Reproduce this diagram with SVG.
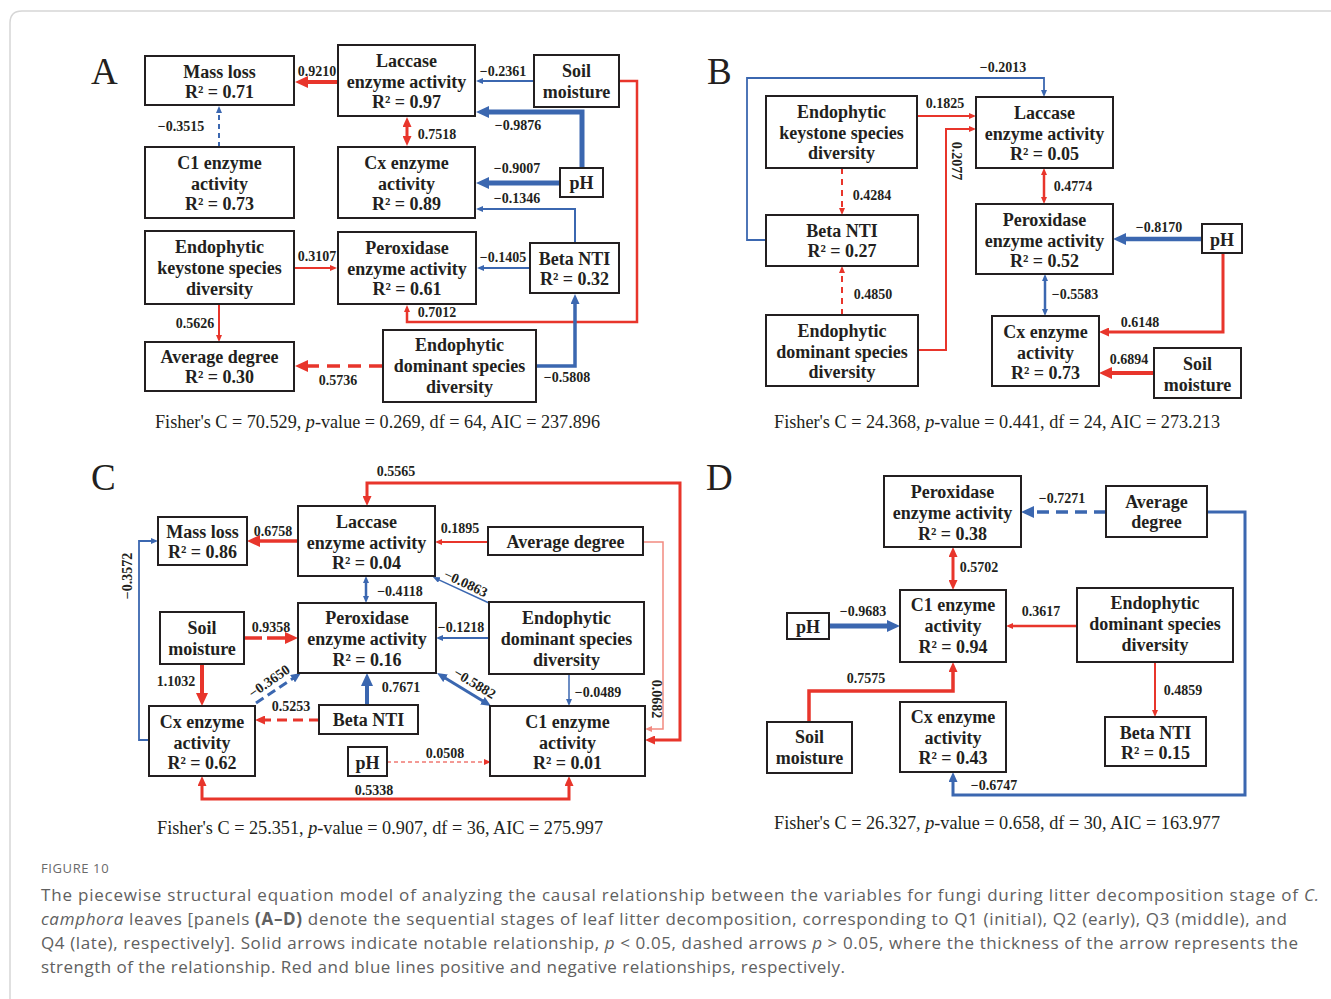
<svg xmlns="http://www.w3.org/2000/svg" width="1331" height="999" viewBox="0 0 1331 999">
<style>
.bx{fill:#fff;stroke:#231f20;stroke-width:2}
.nt{font-family:"Liberation Serif","Times New Roman",serif;font-weight:bold;font-size:18px;text-anchor:middle;fill:#231f20}
.lb{font-family:"Liberation Serif","Times New Roman",serif;font-weight:bold;font-size:14px;text-anchor:middle;fill:#231f20}
.fi{font-family:"Liberation Serif","Times New Roman",serif;font-size:18px;fill:#231f20}
.pl{font-family:"Liberation Serif","Times New Roman",serif;font-size:37px;fill:#231f20}
.r{fill:none;stroke:#e8352b}
.b{fill:none;stroke:#3b67b0}
.p{fill:none;stroke:#f28a80}
.cap{font-family:"Open Sans","Noto Sans","Liberation Sans",sans-serif;font-size:17px;fill:#606060}
.fig{font-family:"Open Sans","Noto Sans","Liberation Sans",sans-serif;font-size:13px;fill:#6a6a6a;letter-spacing:0.6px}
</style>
<defs>
<marker id="rs" viewBox="0 0 7 6" refX="1" refY="3" markerWidth="7" markerHeight="6" markerUnits="userSpaceOnUse" orient="auto-start-reverse"><path d="M0,0 L7,3 L0,6 z" fill="#e8352b"/></marker>
<marker id="bs" viewBox="0 0 7 6" refX="1" refY="3" markerWidth="7" markerHeight="6" markerUnits="userSpaceOnUse" orient="auto-start-reverse"><path d="M0,0 L7,3 L0,6 z" fill="#3b67b0"/></marker>
<marker id="ps" viewBox="0 0 7 6" refX="1" refY="3" markerWidth="7" markerHeight="6" markerUnits="userSpaceOnUse" orient="auto-start-reverse"><path d="M0,0 L7,3 L0,6 z" fill="#f28a80"/></marker>
<marker id="rm" viewBox="0 0 10 9" refX="1" refY="4.5" markerWidth="10" markerHeight="9" markerUnits="userSpaceOnUse" orient="auto-start-reverse"><path d="M0,0 L10,4.5 L0,9 z" fill="#e8352b"/></marker>
<marker id="bm" viewBox="0 0 10 9" refX="1" refY="4.5" markerWidth="10" markerHeight="9" markerUnits="userSpaceOnUse" orient="auto-start-reverse"><path d="M0,0 L10,4.5 L0,9 z" fill="#3b67b0"/></marker>
<marker id="rl" viewBox="0 0 13 12" refX="1" refY="6" markerWidth="13" markerHeight="12" markerUnits="userSpaceOnUse" orient="auto-start-reverse"><path d="M0,0 L13,6 L0,12 z" fill="#e8352b"/></marker>
<marker id="bl" viewBox="0 0 13 12" refX="1" refY="6" markerWidth="13" markerHeight="12" markerUnits="userSpaceOnUse" orient="auto-start-reverse"><path d="M0,0 L13,6 L0,12 z" fill="#3b67b0"/></marker>
</defs>
<rect width="1331" height="999" fill="#fff"/>
<path d="M10,999 V23 Q10,11 22,11 H1331" fill="none" stroke="#d6d6d6" stroke-width="1.5"/>

<!-- Panel letters -->
<text class="pl" x="91" y="84">A</text>
<text class="pl" x="707" y="84">B</text>
<text class="pl" x="91" y="490">C</text>
<text class="pl" x="706" y="490">D</text>

<!-- ===== Connectors ===== -->
<g id="connectors">
<!-- Panel A -->
<path class="r" stroke-width="4" d="M337,82 H307" marker-end="url(#rl)"/>
<path class="b" stroke-width="2" stroke-dasharray="5 4" d="M219,147 V112" marker-end="url(#bs)"/>
<path class="b" stroke-width="2" d="M534,81 H482" marker-end="url(#bs)"/>
<path class="b" stroke-width="5" d="M582,168 V112 H488" marker-end="url(#bl)"/>
<path class="b" stroke-width="5" d="M560,183 H488" marker-end="url(#bl)"/>
<path class="b" stroke-width="2" d="M575,243 V209 H482" marker-end="url(#bs)"/>
<path class="r" stroke-width="3" d="M407,126 V137" marker-start="url(#rm)" marker-end="url(#rm)"/>
<path class="r" stroke-width="2.5" d="M619,81 H637 V322 H407 V311" marker-end="url(#rs)"/>
<path class="b" stroke-width="2" d="M530,268 H483" marker-end="url(#bs)"/>
<path class="b" stroke-width="3.5" d="M536,366 H575 V303" marker-end="url(#bm)"/>
<path class="r" stroke-width="2" d="M294,268 H331" marker-end="url(#rs)"/>
<path class="r" stroke-width="2" d="M219,304 V336" marker-end="url(#rs)"/>
<path class="r" stroke-width="3.5" stroke-dasharray="13 8" d="M382,366 H307" marker-end="url(#rl)"/>

<!-- Panel B -->
<path class="b" stroke-width="1.8" d="M766,240 H747 V78 H1044 V91" marker-end="url(#bs)"/>
<path class="r" stroke-width="2" d="M917,116 H970" marker-end="url(#rs)"/>
<path class="r" stroke-width="2" d="M918,350 H946 V129 H970" marker-end="url(#rs)"/>
<path class="r" stroke-width="2.5" d="M1044,174 V198" marker-start="url(#rs)" marker-end="url(#rs)"/>
<path class="b" stroke-width="4.5" d="M1202,239 H1125" marker-end="url(#bl)"/>
<path class="r" stroke-width="2" stroke-dasharray="6 5" d="M842,168 V209" marker-end="url(#rs)"/>
<path class="r" stroke-width="2" stroke-dasharray="6 5" d="M842,315 V272" marker-end="url(#rs)"/>
<path class="b" stroke-width="2.5" d="M1045,280 V310" marker-start="url(#bs)" marker-end="url(#bs)"/>
<path class="r" stroke-width="3" d="M1223,253 V332 H1108" marker-end="url(#rm)"/>
<path class="r" stroke-width="4" d="M1154,373 H1111" marker-end="url(#rl)"/>

<!-- Panel C -->
<path class="r" stroke-width="3" d="M654,740 H680 V483 H367 V497" marker-start="url(#rm)" marker-end="url(#rm)"/>
<path class="r" stroke-width="3.5" d="M298,541 H259" marker-end="url(#rl)"/>
<path class="b" stroke-width="1.8" d="M149,740 H139 V541 H152" marker-end="url(#bs)"/>
<path class="b" stroke-width="2.5" d="M366,582 V597" marker-start="url(#bs)" marker-end="url(#bs)"/>
<path class="r" stroke-width="3.5" stroke-dasharray="18 5" d="M244,638 H286" marker-end="url(#rl)"/>
<path class="r" stroke-width="2" d="M488,542 H441" marker-end="url(#rs)"/>
<path class="p" stroke-width="1.5" d="M643,542 H663 V729 H651" marker-end="url(#ps)"/>
<path class="b" stroke-width="1.5" d="M489,603 L438.4,579.6" marker-end="url(#bs)"/>
<path class="b" stroke-width="2" d="M489,638 H442" marker-end="url(#bs)"/>
<path class="r" stroke-width="4" d="M202,664 V694" marker-end="url(#rl)"/>
<path class="b" stroke-width="3" stroke-dasharray="9 5" d="M256,703 L293.4,678.1" marker-end="url(#bm)"/>
<path class="b" stroke-width="4" d="M367,705 V685" marker-end="url(#bl)"/>
<path class="r" stroke-width="3" stroke-dasharray="10 6" d="M319,720 H264" marker-end="url(#rm)"/>
<path class="b" stroke-width="3" d="M444.7,677.7 L483.3,701.3" marker-start="url(#bm)" marker-end="url(#bm)"/>
<path class="b" stroke-width="1.5" d="M569,674 V700" marker-end="url(#bs)"/>
<path class="r" stroke-width="1" stroke-dasharray="4 3" d="M387,762 H485" marker-end="url(#rs)"/>
<path class="r" stroke-width="3" d="M202,785 V799 H569 V785" marker-start="url(#rm)" marker-end="url(#rm)"/>

<!-- Panel D -->
<path class="b" stroke-width="3.5" stroke-dasharray="12 7" d="M1106,512 H1033" marker-end="url(#bl)"/>
<path class="b" stroke-width="3" d="M1207,512 H1245 V795 H953 V781" marker-end="url(#bm)"/>
<path class="r" stroke-width="3" d="M953,556 V581" marker-start="url(#rm)" marker-end="url(#rm)"/>
<path class="b" stroke-width="5" d="M829,626 H888" marker-end="url(#bl)"/>
<path class="r" stroke-width="2.5" d="M1077,626 H1012" marker-end="url(#rs)"/>
<path class="r" stroke-width="2" d="M1155,662 V711" marker-end="url(#rs)"/>
<path class="r" stroke-width="3.5" d="M809,722 V691 H953 V671" marker-end="url(#rm)"/>

<!-- connector labels A -->
<text class="lb" x="317" y="76">0.9210</text>
<text class="lb" x="181" y="131">−0.3515</text>
<text class="lb" x="503" y="76">−0.2361</text>
<text class="lb" x="518" y="130">−0.9876</text>
<text class="lb" x="517" y="173">−0.9007</text>
<text class="lb" x="517" y="203">−0.1346</text>
<text class="lb" x="437" y="139">0.7518</text>
<text class="lb" x="437" y="317">0.7012</text>
<text class="lb" x="503" y="262">−0.1405</text>
<text class="lb" x="567" y="382">−0.5808</text>
<text class="lb" x="317" y="261">0.3107</text>
<text class="lb" x="195" y="328">0.5626</text>
<text class="lb" x="338" y="385">0.5736</text>
<!-- labels B -->
<text class="lb" x="1003" y="72">−0.2013</text>
<text class="lb" x="945" y="108">0.1825</text>
<text class="lb" transform="translate(957,161) rotate(90)" x="0" y="5">0.2077</text>
<text class="lb" x="872" y="200">0.4284</text>
<text class="lb" x="1073" y="191">0.4774</text>
<text class="lb" x="1159" y="232">−0.8170</text>
<text class="lb" x="873" y="299">0.4850</text>
<text class="lb" x="1075" y="299">−0.5583</text>
<text class="lb" x="1140" y="327">0.6148</text>
<text class="lb" x="1129" y="364">0.6894</text>
<!-- labels C -->
<text class="lb" x="396" y="476">0.5565</text>
<text class="lb" x="273" y="536">0.6758</text>
<text class="lb" transform="translate(127,576) rotate(-90)" x="0" y="5">−0.3572</text>
<text class="lb" x="460" y="533">0.1895</text>
<text class="lb" x="400" y="596">−0.4118</text>
<text class="lb" transform="translate(466,583) rotate(25)" x="0" y="5">−0.0863</text>
<text class="lb" x="271" y="632">0.9358</text>
<text class="lb" x="461" y="632">−0.1218</text>
<text class="lb" x="176" y="686">1.1032</text>
<text class="lb" transform="translate(269,681) rotate(-35)" x="0" y="5">−0.3650</text>
<text class="lb" x="291" y="711">0.5253</text>
<text class="lb" x="401" y="692">0.7671</text>
<text class="lb" transform="translate(475,683) rotate(31)" x="0" y="5">−0.5882</text>
<text class="lb" x="598" y="697">−0.0489</text>
<text class="lb" transform="translate(657,699) rotate(90)" x="0" y="5">0.0682</text>
<text class="lb" x="445" y="758">0.0508</text>
<text class="lb" x="374" y="795">0.5338</text>
<!-- labels D -->
<text class="lb" x="1062" y="503">−0.7271</text>
<text class="lb" x="979" y="572">0.5702</text>
<text class="lb" x="863" y="616">−0.9683</text>
<text class="lb" x="1041" y="616">0.3617</text>
<text class="lb" x="1183" y="695">0.4859</text>
<text class="lb" x="866" y="683">0.7575</text>
<text class="lb" x="994" y="790">−0.6747</text>
</g>

<!-- ===== Panel A nodes ===== -->
<g id="A-massloss"><rect class="bx" x="145" y="56" width="149" height="49"/><text class="nt" x="219.5" y="78">Mass loss</text><text class="nt" x="219.5" y="98">R² = 0.71</text></g>
<g id="A-laccase"><rect class="bx" x="338" y="45" width="137" height="71"/><text class="nt" x="406.5" y="67">Laccase</text><text class="nt" x="406.5" y="88">enzyme activity</text><text class="nt" x="406.5" y="108">R² = 0.97</text></g>
<g id="A-soil"><rect class="bx" x="534" y="55" width="85" height="52"/><text class="nt" x="576.5" y="77">Soil</text><text class="nt" x="576.5" y="98">moisture</text></g>
<g id="A-c1"><rect class="bx" x="145" y="147" width="149" height="71"/><text class="nt" x="219.5" y="169">C1 enzyme</text><text class="nt" x="219.5" y="190">activity</text><text class="nt" x="219.5" y="210">R² = 0.73</text></g>
<g id="A-cx"><rect class="bx" x="338" y="147" width="137" height="71"/><text class="nt" x="406.5" y="169">Cx enzyme</text><text class="nt" x="406.5" y="190">activity</text><text class="nt" x="406.5" y="210">R² = 0.89</text></g>
<g id="A-ph"><rect class="bx" x="560" y="168" width="43" height="29"/><text class="nt" x="581.5" y="189">pH</text></g>
<g id="A-keystone"><rect class="bx" x="145" y="231" width="149" height="73"/><text class="nt" x="219.5" y="253">Endophytic</text><text class="nt" x="219.5" y="274">keystone species</text><text class="nt" x="219.5" y="295">diversity</text></g>
<g id="A-peroxidase"><rect class="bx" x="338" y="232" width="138" height="72"/><text class="nt" x="407" y="254">Peroxidase</text><text class="nt" x="407" y="275">enzyme activity</text><text class="nt" x="407" y="295">R² = 0.61</text></g>
<g id="A-betanti"><rect class="bx" x="530" y="243" width="89" height="50"/><text class="nt" x="574.5" y="265">Beta NTI</text><text class="nt" x="574.5" y="285">R² = 0.32</text></g>
<g id="A-avgdegree"><rect class="bx" x="145" y="342" width="149" height="49"/><text class="nt" x="219.5" y="363">Average degree</text><text class="nt" x="219.5" y="383">R² = 0.30</text></g>
<g id="A-dominant"><rect class="bx" x="383" y="330" width="153" height="72"/><text class="nt" x="459.5" y="351">Endophytic</text><text class="nt" x="459.5" y="372">dominant species</text><text class="nt" x="459.5" y="393">diversity</text></g>
<text class="fi" x="155" y="428" textLength="445" lengthAdjust="spacingAndGlyphs">Fisher's C = 70.529, <tspan font-style="italic">p</tspan>-value = 0.269, df = 64, AIC = 237.896</text>

<!-- ===== Panel B nodes ===== -->
<g id="B-keystone"><rect class="bx" x="766" y="96" width="151" height="72"/><text class="nt" x="841.5" y="118">Endophytic</text><text class="nt" x="841.5" y="139">keystone species</text><text class="nt" x="841.5" y="159">diversity</text></g>
<g id="B-laccase"><rect class="bx" x="976" y="97" width="137" height="71"/><text class="nt" x="1044.5" y="119">Laccase</text><text class="nt" x="1044.5" y="140">enzyme activity</text><text class="nt" x="1044.5" y="160">R² = 0.05</text></g>
<g id="B-betanti"><rect class="bx" x="766" y="215" width="152" height="51"/><text class="nt" x="842" y="237">Beta NTI</text><text class="nt" x="842" y="257">R² = 0.27</text></g>
<g id="B-peroxidase"><rect class="bx" x="976" y="204" width="137" height="70"/><text class="nt" x="1044.5" y="226">Peroxidase</text><text class="nt" x="1044.5" y="247">enzyme activity</text><text class="nt" x="1044.5" y="267">R² = 0.52</text></g>
<g id="B-ph"><rect class="bx" x="1202" y="224" width="40" height="29"/><text class="nt" x="1222" y="246">pH</text></g>
<g id="B-dominant"><rect class="bx" x="766" y="315" width="152" height="71"/><text class="nt" x="842" y="337">Endophytic</text><text class="nt" x="842" y="358">dominant species</text><text class="nt" x="842" y="378">diversity</text></g>
<g id="B-cx"><rect class="bx" x="992" y="316" width="107" height="70"/><text class="nt" x="1045.5" y="338">Cx enzyme</text><text class="nt" x="1045.5" y="359">activity</text><text class="nt" x="1045.5" y="379">R² = 0.73</text></g>
<g id="B-soil"><rect class="bx" x="1154" y="348" width="87" height="50"/><text class="nt" x="1197.5" y="370">Soil</text><text class="nt" x="1197.5" y="391">moisture</text></g>
<text class="fi" x="774" y="428" textLength="446" lengthAdjust="spacingAndGlyphs">Fisher's C = 24.368, <tspan font-style="italic">p</tspan>-value = 0.441, df = 24, AIC = 273.213</text>

<!-- ===== Panel C nodes ===== -->
<g id="C-massloss"><rect class="bx" x="158" y="517" width="89" height="48"/><text class="nt" x="202.5" y="538">Mass loss</text><text class="nt" x="202.5" y="558">R² = 0.86</text></g>
<g id="C-laccase"><rect class="bx" x="298" y="506" width="137" height="70"/><text class="nt" x="366.5" y="528">Laccase</text><text class="nt" x="366.5" y="549">enzyme activity</text><text class="nt" x="366.5" y="569">R² = 0.04</text></g>
<g id="C-avgdegree"><rect class="bx" x="488" y="527" width="155" height="28"/><text class="nt" x="565.5" y="548">Average degree</text></g>
<g id="C-soil"><rect class="bx" x="160" y="612" width="84" height="52"/><text class="nt" x="202" y="634">Soil</text><text class="nt" x="202" y="655">moisture</text></g>
<g id="C-peroxidase"><rect class="bx" x="298" y="603" width="138" height="70"/><text class="nt" x="367" y="624">Peroxidase</text><text class="nt" x="367" y="645">enzyme activity</text><text class="nt" x="367" y="666">R² = 0.16</text></g>
<g id="C-dominant"><rect class="bx" x="489" y="602" width="155" height="72"/><text class="nt" x="566.5" y="624">Endophytic</text><text class="nt" x="566.5" y="645">dominant species</text><text class="nt" x="566.5" y="666">diversity</text></g>
<g id="C-cx"><rect class="bx" x="149" y="706" width="106" height="70"/><text class="nt" x="202" y="728">Cx enzyme</text><text class="nt" x="202" y="749">activity</text><text class="nt" x="202" y="769">R² = 0.62</text></g>
<g id="C-betanti"><rect class="bx" x="319" y="705" width="99" height="29"/><text class="nt" x="368.5" y="726">Beta NTI</text></g>
<g id="C-ph"><rect class="bx" x="348" y="747" width="39" height="29"/><text class="nt" x="367.5" y="769">pH</text></g>
<g id="C-c1"><rect class="bx" x="490" y="706" width="155" height="70"/><text class="nt" x="567.5" y="728">C1 enzyme</text><text class="nt" x="567.5" y="749">activity</text><text class="nt" x="567.5" y="769">R² = 0.01</text></g>
<text class="fi" x="157" y="834" textLength="446" lengthAdjust="spacingAndGlyphs">Fisher's C = 25.351, <tspan font-style="italic">p</tspan>-value = 0.907, df = 36, AIC = 275.997</text>

<!-- ===== Panel D nodes ===== -->
<g id="D-peroxidase"><rect class="bx" x="884" y="476" width="137" height="71"/><text class="nt" x="952.5" y="498">Peroxidase</text><text class="nt" x="952.5" y="519">enzyme activity</text><text class="nt" x="952.5" y="540">R² = 0.38</text></g>
<g id="D-avgdegree"><rect class="bx" x="1106" y="486" width="101" height="51"/><text class="nt" x="1156.5" y="508">Average</text><text class="nt" x="1156.5" y="528">degree</text></g>
<g id="D-ph"><rect class="bx" x="787" y="613" width="42" height="26"/><text class="nt" x="808" y="633">pH</text></g>
<g id="D-c1"><rect class="bx" x="900" y="590" width="106" height="72"/><text class="nt" x="953" y="611">C1 enzyme</text><text class="nt" x="953" y="632">activity</text><text class="nt" x="953" y="653">R² = 0.94</text></g>
<g id="D-dominant"><rect class="bx" x="1077" y="588" width="156" height="74"/><text class="nt" x="1155" y="609">Endophytic</text><text class="nt" x="1155" y="630">dominant species</text><text class="nt" x="1155" y="651">diversity</text></g>
<g id="D-soil"><rect class="bx" x="767" y="722" width="85" height="51"/><text class="nt" x="809.5" y="743">Soil</text><text class="nt" x="809.5" y="764">moisture</text></g>
<g id="D-cx"><rect class="bx" x="900" y="702" width="106" height="70"/><text class="nt" x="953" y="723">Cx enzyme</text><text class="nt" x="953" y="744">activity</text><text class="nt" x="953" y="764">R² = 0.43</text></g>
<g id="D-betanti"><rect class="bx" x="1105" y="717" width="101" height="49"/><text class="nt" x="1155.5" y="739">Beta NTI</text><text class="nt" x="1155.5" y="759">R² = 0.15</text></g>
<text class="fi" x="774" y="829" textLength="446" lengthAdjust="spacingAndGlyphs">Fisher's C = 26.327, <tspan font-style="italic">p</tspan>-value = 0.658, df = 30, AIC = 163.977</text>

<!-- ===== Caption ===== -->
<text class="fig" x="41" y="873">FIGURE 10</text>
<text class="cap" x="41" y="901" textLength="1278">The piecewise structural equation model of analyzing the causal relationship between the variables for fungi during litter decomposition stage of <tspan font-style="italic">C.</tspan></text>
<text class="cap" x="41" y="925" textLength="1246"><tspan font-style="italic">camphora</tspan> leaves [panels <tspan font-weight="bold">(A–D)</tspan> denote the sequential stages of leaf litter decomposition, corresponding to Q1 (initial), Q2 (early), Q3 (middle), and</text>
<text class="cap" x="41" y="949" textLength="1257">Q4 (late), respectively]. Solid arrows indicate notable relationship, <tspan font-style="italic">p</tspan> &lt; 0.05, dashed arrows <tspan font-style="italic">p</tspan> &gt; 0.05, where the thickness of the arrow represents the</text>
<text class="cap" x="41" y="973" textLength="804">strength of the relationship. Red and blue lines positive and negative relationships, respectively.</text>
</svg>
